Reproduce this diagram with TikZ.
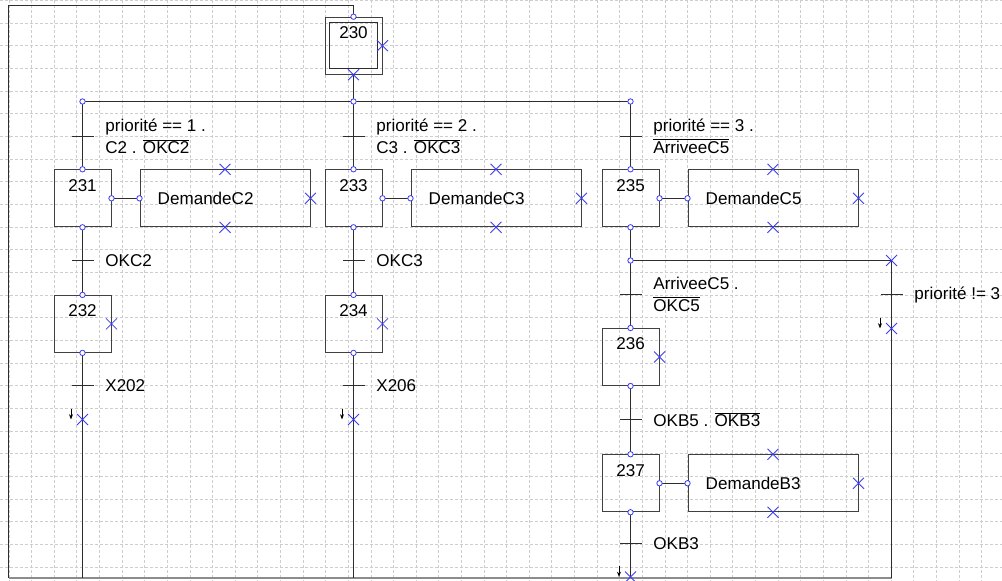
\documentclass[tikz,border=0pt]{standalone}
\usepackage{fontspec}
\setmainfont{Liberation Sans}
\usepackage{xcolor}
\usepackage{tikz}
\usetikzlibrary{positioning, arrows.meta}

\definecolor{bleu}{RGB}{60,60,245}
\definecolor{trait}{RGB}{45,45,45}
\definecolor{grille}{RGB}{205,205,205}

\newcommand{\barre}[1]{$\overline{\mbox{#1}}$}

\begin{document}
\begin{tikzpicture}[x=0.75pt, y=-0.75pt,
        font=\fontsize{12.8}{16.3}\selectfont,
        etape/.style={draw=black!75, line width=0.75pt, minimum size=42.75pt, inner sep=0pt,
                      text height=15.9pt, text depth=26.8pt},
        action/.style={draw=black!75, line width=0.75pt, minimum width=127.5pt, minimum height=42.75pt,
                       inner xsep=13.3pt, inner ysep=0pt, text width=100.9pt, align=left},
        trans/.style={fill=trait, minimum width=16.5pt, minimum height=0.75pt, inner sep=0pt},
        recept/.style={inner sep=0pt, align=left},
        liaison/.style={draw=trait, line width=0.75pt},
        rond/.style={draw=bleu, line width=0.6pt, fill=white},
        croix/.style={draw=bleu, line width=0.6pt},
        renvoi/.style={draw=black, line width=0.75pt, -{Stealth[length=4pt,width=3pt]}},
        grillage/.style={draw=grille, line width=0.75pt, dash pattern=on 2.25pt off 1.5pt}]

        \useasboundingbox[fill=white] (0,0) rectangle (1002,581);

        % grille de fond
        \foreach \i in {0,...,43} \draw[grillage] (9.1+22.62*\i,0) -- (9.1+22.62*\i,581);
        \foreach \j in {0,...,25} \draw[grillage] (0,0.65+22.66*\j) -- (1002,0.65+22.66*\j);

        % etapes et actions
        \node[etape] (s230) at (353.5,45.7) {230};
        \node[etape] (s231) at (82.5,198.3) {231};
        \node[action] (a231) [right=21pt of s231] {DemandeC2};
        \node[etape] (s232) [below=50.7pt of s231] {232};
        \node[etape] (s233) at (353.5,198.3) {233};
        \node[action] (a233) [right=21pt of s233] {DemandeC3};
        \node[etape] (s234) [below=50.7pt of s233] {234};
        \node[etape] (s235) at (630.5,198.3) {235};
        \node[action] (a235) [right=21pt of s235] {DemandeC5};
        \node[etape] (s236) at (630.5,357) {236};
        \node[etape] (s237) [below=51.2pt of s236] {237};
        \node[action] (a237) [right=21pt of s237] {DemandeB3};

        \draw[liaison] ([shift={(5.3,5.4)}]s230.north west) rectangle ([shift={(-5.3,-5.7)}]s230.south east);

        % points de liaison
        \coordinate (h1) at (8.5,5.5);
        \coordinate (b0) at (8.5,578);
        \coordinate (b9) at (891.5,578);
        \coordinate (d0) at (353.5,101.5);
        \coordinate (d1) at (82.5,101.5);
        \coordinate (d3) at (630.5,101.5);
        \coordinate (d35) at (630.5,260.5);
        \coordinate (d9) at (891.5,260.5);
        \coordinate (j1) at (82.5,419.5);
        \coordinate (j2) at (353.5,419.5);
        \coordinate (j3) at (891.5,328.5);
        \coordinate (j4) at (630.5,577);

        \draw[liaison] (s230.north) |- (h1) -- (b0);
        \draw[draw=black!45, line width=1.5pt] (b0) -- (b9);
        \draw[liaison]
        (s230.south) -- (d0)
        (d1) -- (d3)
        (d1) -- (s231.north)
        (d0) -- (s233.north)
        (d3) -- (s235.north)
        (s231.south) -- (s232.north)
        (s232.south) -- (s232.south |- b0)
        (s233.south) -- (s234.north)
        (s234.south) -- (s234.south |- b0)
        (s235.south) -- (s236.north)
        (s236.south) -- (s237.north)
        (s237.south) -- (j4)
        (d35) -- (d9) -- (b9)
        (s231.east) -- (a231.west)
        (s233.east) -- (a233.west)
        (s235.east) -- (a235.west)
        (s237.east) -- (a237.west);

        % transitions
        \node[trans] (t1) at (82.5,136.5) {};
        \node[trans] (t2) at (353.5,136.5) {};
        \node[trans] (t3) at (630.5,136.5) {};
        \node[trans] (t4) at (82.5,260.5) {};
        \node[trans] (t5) at (353.5,260.5) {};
        \node[trans] (t6) at (82.5,385.5) {};
        \node[trans] (t7) at (353.5,385.5) {};
        \node[trans] (t8) at (630.5,294.5) {};
        \node[trans] (t9) at (891.5,294.5) {};
        \node[trans] (t10) at (630.5,419.5) {};
        \node[trans] (t11) at (630.5,543.5) {};

        \node[recept] (r1) [right=8.5pt of t1] {priorité == 1 .\\C2 . \barre{OKC2}};
        \node[recept] (r2) [right=8.5pt of t2] {priorité == 2 .\\C3 . \barre{OKC3}};
        \node[recept] (r3) [right=8.5pt of t3] {priorité == 3 .\\\barre{ArriveeC5}};
        \node[recept] (r4) [right=8.5pt of t4] {OKC2};
        \node[recept] (r5) [right=8.5pt of t5] {OKC3};
        \node[recept] (r6) [right=8.5pt of t6] {X202};
        \node[recept] (r7) [right=8.5pt of t7] {X206};
        \node[recept] (r8) [right=8.5pt of t8] {ArriveeC5 .\\\barre{OKC5}};
        \node[recept] (r9) [right=8.5pt of t9] {priorité != 3};
        \node[recept] (r10) [right=8.5pt of t10] {OKB5 . \barre{OKB3}};
        \node[recept] (r11) [right=8.5pt of t11] {OKB3};

        % renvois
        \foreach \j in {j1, j2, j3, j4}
          \draw[renvoi] ([shift={(-11.5,-11)}]\j) -- ([shift={(-11.5,0)}]\j);

        % marques
        \foreach \p in {s230.south, s230.east, s232.east, s234.east, s236.east,
                        a231.north, a231.south, a231.east, a233.north, a233.south, a233.east,
                        a235.north, a235.south, a235.east, a237.north, a237.south, a237.east,
                        d9, j1, j2, j3, j4}
          \draw[croix] (\p) +(-5.5,-5.5) -- +(5.5,5.5) +(-5.5,5.5) -- +(5.5,-5.5);
        \foreach \p in {s230.north, d0, d1, d3, d35,
                        s231.north, s231.south, s231.east, a231.west,
                        s232.north, s232.south,
                        s233.north, s233.south, s233.east, a233.west,
                        s234.north, s234.south,
                        s235.north, s235.south, s235.east, a235.west,
                        s236.north, s236.south,
                        s237.north, s237.south, s237.east, a237.west}
          \draw[rond] (\p) circle[radius=2.7];

    \end{tikzpicture}
\end{document}
